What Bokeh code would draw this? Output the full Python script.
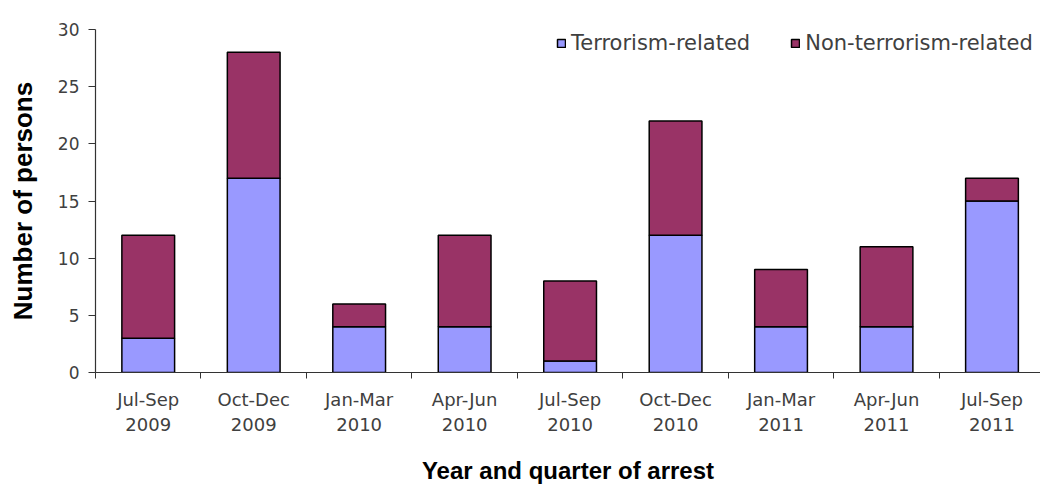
from bokeh.plotting import figure
from bokeh.models import Range1d, FixedTicker, Legend, LegendItem, ColumnDataSource
from bokeh.embed import file_html
from bokeh.resources import INLINE

quarters = ["Jul-Sep\n2009", "Oct-Dec\n2009", "Jan-Mar\n2010", "Apr-Jun\n2010", "Jul-Sep\n2010",
            "Oct-Dec\n2010", "Jan-Mar\n2011", "Apr-Jun\n2011", "Jul-Sep\n2011"]
terrorism = [3, 17, 4, 4, 1, 12, 4, 4, 15]
non_terrorism = [9, 11, 2, 8, 7, 10, 5, 7, 2]
series_names = ["Terrorism-related", "Non-terrorism-related"]
colors = ["#9999FF", "#993366"]
y_ticks = [0, 5, 10, 15, 20, 25, 30]

xs = [i + 0.5 for i in range(len(quarters))]
src = ColumnDataSource(dict(x=xs, t=terrorism, n=non_terrorism))

p = figure(width=1040, height=486, output_backend="svg", toolbar_location=None,
           x_range=Range1d(0, 8.96), y_range=Range1d(0, 30),
           min_border_left=95, min_border_right=0, min_border_top=29, min_border_bottom=111)
p.outline_line_color = None
p.xgrid.grid_line_color = None
p.ygrid.grid_line_color = None

r = p.vbar_stack(["t", "n"], x="x", width=0.5, source=src, fill_color=colors,
                 line_color="black", line_width=1.5)

tick_font = "DejaVu Sans"
title_font = "Liberation Sans"

xa = p.xaxis[0]
xa.ticker = FixedTicker(ticks=xs, minor_ticks=list(range(len(quarters) + 1)))
xa.major_label_overrides = {x: q for x, q in zip(xs, quarters)}
xa.major_tick_out = 0
xa.major_tick_in = 0
xa.minor_tick_out = 6
xa.minor_tick_in = 0
xa.minor_tick_line_color = "#333333"
xa.axis_line_color = "#333333"
xa.axis_line_width = 1.2
xa.major_label_text_font = tick_font
xa.major_label_text_font_size = "18px"
xa.major_label_text_color = "#404040"
xa.major_label_standoff = 10
xa.axis_label = "Year and quarter of arrest"
xa.axis_label_text_font = title_font
xa.axis_label_text_font_style = "bold"
xa.axis_label_text_font_size = "24px"
xa.axis_label_text_color = "black"
xa.axis_label_standoff = 19

ya = p.yaxis[0]
ya.ticker = FixedTicker(ticks=y_ticks, minor_ticks=[])
ya.major_tick_out = 7
ya.major_tick_in = 0
ya.major_tick_line_color = "#333333"
ya.axis_line_color = "#333333"
ya.axis_line_width = 1.2
ya.major_label_text_font = tick_font
ya.major_label_text_font_size = "17px"
ya.major_label_text_color = "#404040"
ya.major_label_standoff = 9
ya.axis_label = "Number of persons"
ya.axis_label_text_font = title_font
ya.axis_label_text_font_style = "bold"
ya.axis_label_text_font_size = "26px"
ya.axis_label_text_color = "black"
ya.axis_label_standoff = 17

legend = Legend(items=[LegendItem(label=series_names[i], renderers=[r[i]]) for i in range(2)],
                location=(461, 317), orientation="horizontal")
legend.border_line_color = None
legend.background_fill_alpha = 0
legend.label_text_font = tick_font
legend.label_text_font_size = "21px"
legend.label_text_color = "#404040"
legend.glyph_width = 10
legend.glyph_height = 10
legend.label_standoff = 5
legend.spacing = 40
legend.padding = 0
legend.margin = 0
legend.label_height = 16
p.add_layout(legend)

open("out.html", "w").write(file_html(p, INLINE))
